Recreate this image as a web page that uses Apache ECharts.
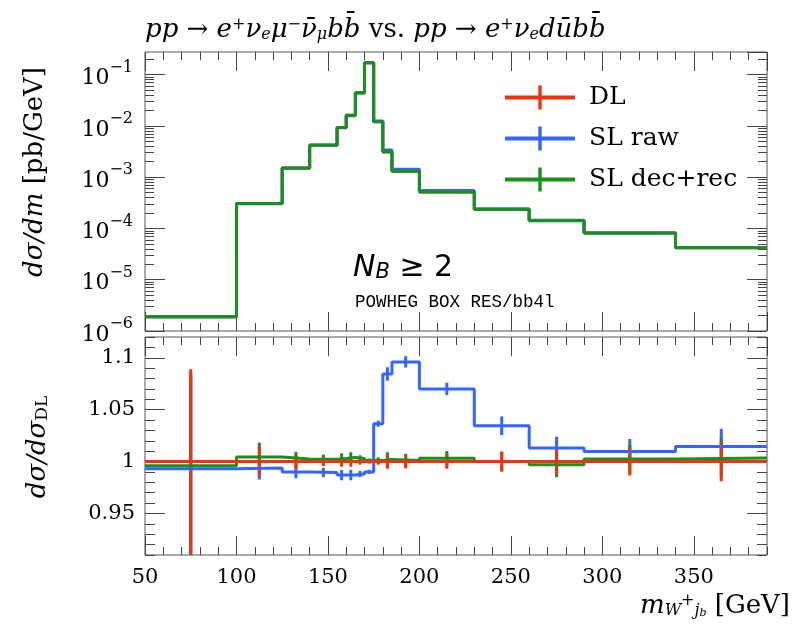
<!DOCTYPE html>
<html>
<head>
<meta charset="utf-8">
<script src="https://cdn.jsdelivr.net/npm/echarts@6/dist/echarts.min.js"></script>
<style>
  html, body { margin: 0; padding: 0; background: #fff; }
  #chart { width: 799px; height: 633px; }
</style>
</head>
<body>
<div id="chart"></div>
<script>
// bin edges of m_{W+ j_b} [GeV]
const edges = [50, 100, 125, 140, 155, 160, 165, 170, 175, 180, 185, 200, 230, 260, 290, 340, 390]

// dsigma/dm [pb/GeV], one value per bin
const xsDL = [1.9e-6, 3.05e-4, 1.5e-3, 4.2e-3, 9.3e-3, 1.6e-2, 4.4e-2, 0.17, 1.2e-2, 3.1e-3, 1.3e-3, 5.1e-4, 2.33e-4, 1.42e-4, 8.1e-5, 4.2e-5]
const xsRaw = [1.89e-6, 3.03e-4, 1.49e-3, 4.16e-3, 9.18e-3, 1.58e-2, 4.35e-2, 0.169, 1.243e-2, 3.36e-3, 1.426e-3, 5.46e-4, 2.41e-4, 1.44e-4, 8.18e-5, 4.26e-5]
const xsDec = [1.89e-6, 3.06e-4, 1.5e-3, 4.21e-3, 9.32e-3, 1.606e-2, 4.41e-2, 0.17, 1.201e-2, 3.106e-3, 1.301e-3, 5.12e-4, 2.33e-4, 1.416e-4, 8.12e-5, 4.21e-5]

// ratio to DL
const ratioDL = [1, 1, 1, 1, 1, 1, 1, 1, 1, 1, 1, 1, 1, 1, 1, 1]
const ratioRaw = [0.993, 0.9937, 0.990, 0.9895, 0.987, 0.987, 0.988, 0.990, 1.0365, 1.0844, 1.096, 1.070, 1.0345, 1.013, 1.0098, 1.0146]
const ratioDec = [0.996, 1.0043, 1.0024, 1.0022, 1.003, 1.004, 1.003, 1.001, 1.001, 1.002, 1.001, 1.0032, 1.000, 0.9969, 1.0024, 1.0034]

// errors on the ratio
const errDL = [0.089, 0.014, 0.007, 0.0045, 0.005, 0.005, 0.003, 0.002, 0.003, 0.007, 0.0065, 0.007, 0.0095, 0.0125, 0.0135, 0.019]
const errRaw = [0.089, 0.011, 0.006, 0.0045, 0.005, 0.005, 0.003, 0.002, 0.003, 0.0065, 0.0055, 0.006, 0.009, 0.011, 0.012, 0.017]
const errDec = [0.089, 0.014, 0.007, 0.0045, 0.005, 0.005, 0.003, 0.002, 0.003, 0.007, 0.0065, 0.007, 0.0095, 0.012, 0.0135, 0.019]

// tick positions
const ratioTicks = [0.95, 1, 1.05, 1.1]
const logMax = 0.275

const RED = '#ee3311'
const BLUE = '#3366ff'
const GREEN = '#18901c'
const TICK = '#444'
const SERIF = 'DejaVu Serif'

const centers = edges.slice(0, -1).map((e, i) => (e + edges[i + 1]) / 2)
const stepData = (vals) => edges.map((e, i) => [e, vals[Math.min(i, vals.length - 1)]])
const errData = (r, e) => centers.map((c, i) => [c, r[i] - e[i], r[i] + e[i]])

// minor log ticks 2..9 x 10^n, in log10 space
const minorLog = []
for (let n = -6; n < 0; n++) {
  for (let k = 2; k <= 9; k++) {
    const v = Math.log10(k * Math.pow(10, n))
    if (v <= Math.log10(logMax)) minorLog.push(v)
  }
}

const chart = echarts.init(document.getElementById('chart'))

const xAx = (grid, pos, interval, len, labels) => ({
  type: 'value',
  gridIndex: grid,
  position: pos,
  min: 50,
  max: 390,
  interval: interval,
  axisLine: { show: false },
  splitLine: { show: false },
  axisTick: { inside: true, length: len, lineStyle: { color: TICK, width: 1 } },
  axisLabel: labels
    ? { show: true, margin: 12, color: '#000', fontFamily: SERIF, fontSize: 21, showMaxLabel: false }
    : { show: false }
})

const logLabel = {
  margin: 12,
  showMaxLabel: false,
  formatter: (v) => '{b|10}{s|−' + Math.round(-Math.log10(v)) + '}',
  rich: {
    b: { fontFamily: SERIF, fontSize: 22, color: '#000', verticalAlign: 'bottom', lineHeight: 30 },
    s: { fontFamily: SERIF, fontSize: 16, color: '#000', verticalAlign: 'top', lineHeight: 16 }
  }
}

const logAx = (pos, labels) => ({
  type: 'log',
  logBase: 10,
  gridIndex: 0,
  position: pos,
  min: 1e-6,
  max: logMax,
  axisLine: { show: false },
  splitLine: { show: false },
  axisTick: { inside: true, length: 20, lineStyle: { color: TICK, width: 1 } },
  axisLabel: labels ? logLabel : { show: false }
})

const logMinorAx = (pos) => ({
  type: 'value',
  gridIndex: 0,
  position: pos,
  min: -6,
  max: Math.log10(logMax),
  axisLine: { show: false },
  splitLine: { show: false },
  axisTick: { inside: true, length: 9, customValues: minorLog, lineStyle: { color: TICK, width: 1 } },
  axisLabel: { show: false }
})

const ratioAx = (pos, labels) => ({
  type: 'value',
  gridIndex: 1,
  position: pos,
  min: 0.91,
  max: 1.12,
  axisLine: { show: false },
  splitLine: { show: false },
  axisTick: { inside: true, length: 20, customValues: ratioTicks, lineStyle: { color: TICK, width: 1 } },
  axisLabel: labels
    ? { customValues: ratioTicks, margin: 10, color: '#000', fontFamily: SERIF, fontSize: 21, formatter: (v) => String(+(+v).toFixed(2)) }
    : { show: false }
})

const ratioMinorAx = (pos) => ({
  type: 'value',
  gridIndex: 1,
  position: pos,
  min: 0.91,
  max: 1.12,
  interval: 0.01,
  axisLine: { show: false },
  splitLine: { show: false },
  axisTick: { inside: true, length: 10, lineStyle: { color: TICK, width: 1 } },
  axisLabel: { show: false }
})

const stepLine = (name, color, x, y, data) => ({
  name: name,
  type: 'line',
  xAxisIndex: x,
  yAxisIndex: y,
  step: 'end',
  symbol: 'none',
  data: data,
  lineStyle: { color: color, width: 3 },
  itemStyle: { color: color }
})

const errBars = (name, color, data) => ({
  name: name,
  type: 'custom',
  xAxisIndex: 4,
  yAxisIndex: 4,
  clip: true,
  itemStyle: { color: color },
  encode: { x: 0, y: [1, 2] },
  data: data,
  renderItem: (params, api) => {
    const a = api.coord([api.value(0), api.value(1)])
    const b = api.coord([api.value(0), api.value(2)])
    return {
      type: 'line',
      shape: { x1: a[0], y1: a[1], x2: b[0], y2: b[1] },
      style: { stroke: color, lineWidth: 3 }
    }
  }
})

const mathRich = {
  i: { fontFamily: SERIF, fontStyle: 'italic', fontSize: 26, color: '#000' },
  r: { fontFamily: SERIF, fontSize: 26, color: '#000' },
  sup: { fontFamily: SERIF, fontSize: 16, color: '#000', verticalAlign: 'top', lineHeight: 16 },
  sub: { fontFamily: SERIF, fontStyle: 'italic', fontSize: 16, color: '#000', verticalAlign: 'bottom', lineHeight: 16 },
  subr: { fontFamily: SERIF, fontSize: 17, color: '#000', verticalAlign: 'bottom', lineHeight: 17 }
}

const option = {
  animation: false,
  backgroundColor: '#fff',
  grid: [
    { left: 145, top: 52, width: 622, height: 279, show: true, borderColor: '#555', borderWidth: 1 },
    { left: 145, top: 337, width: 622, height: 218, show: true, borderColor: '#555', borderWidth: 1 }
  ],
  legend: {
    data: ['DL', 'SL raw', 'SL dec+rec'],
    orient: 'vertical',
    left: 500,
    top: 80,
    itemWidth: 70,
    itemHeight: 24,
    itemGap: 16,
    icon: 'path://M0,10L70,10L70,14L0,14Z M33.3,0L36.7,0L36.7,24L33.3,24Z',
    textStyle: { fontFamily: SERIF, fontSize: 25, color: '#000', lineHeight: 24, padding: [0, 0, 0, 9] }
  },
  xAxis: [
    xAx(0, 'bottom', 50, 19, false),
    xAx(0, 'bottom', 10, 8, false),
    xAx(0, 'top', 50, 19, false),
    xAx(0, 'top', 10, 8, false),
    xAx(1, 'bottom', 50, 19, true),
    xAx(1, 'bottom', 10, 8, false),
    xAx(1, 'top', 50, 19, false),
    xAx(1, 'top', 10, 8, false)
  ],
  yAxis: [
    logAx('left', true),
    logAx('right', false),
    logMinorAx('left'),
    logMinorAx('right'),
    ratioAx('left', true),
    ratioAx('right', false),
    ratioMinorAx('left'),
    ratioMinorAx('right')
  ],
  graphic: [
    {
      type: 'text',
      x: 145,
      y: 30,
      style: {
        text: '{i|pp}{r| → }{i|e}{sup|+}{i|ν}{sub|e}{i|μ}{sup|−}{i|ν̄}{sub|μ}{i|bb̄}{r| vs. }{i|pp}{r| → }{i|e}{sup|+}{i|ν}{sub|e}{i|dūbb̄}',
        fill: '#000',
        verticalAlign: 'middle',
        rich: mathRich
      }
    },
    {
      type: 'text',
      x: 35,
      y: 172,
      rotation: Math.PI / 2,
      style: {
        text: '{i|dσ/dm}{r| [pb/GeV]}',
        align: 'center',
        verticalAlign: 'middle',
        rich: mathRich
      }
    },
    {
      type: 'text',
      x: 38,
      y: 447,
      rotation: Math.PI / 2,
      style: {
        text: '{i|dσ/dσ}{subr|DL}',
        align: 'center',
        verticalAlign: 'middle',
        rich: mathRich
      }
    },
    {
      type: 'text',
      x: 790,
      y: 606,
      style: {
        text: '{i|m}{sub|W}{sup|+}{sub|j}{subb|b}{r| [GeV]}',
        align: 'right',
        verticalAlign: 'middle',
        rich: Object.assign({}, mathRich, {
          subb: { fontFamily: SERIF, fontStyle: 'italic', fontSize: 11, color: '#000', verticalAlign: 'bottom', lineHeight: 11 }
        })
      }
    },
    {
      type: 'text',
      x: 353,
      y: 268,
      style: {
        text: '{n|N}{nb|B}{g| ≥ 2}',
        verticalAlign: 'middle',
        rich: {
          n: { fontFamily: 'DejaVu Sans', fontStyle: 'italic', fontSize: 30, color: '#000' },
          nb: { fontFamily: 'DejaVu Sans', fontStyle: 'italic', fontSize: 21, color: '#000', verticalAlign: 'bottom', lineHeight: 21 },
          g: { fontFamily: 'DejaVu Sans', fontSize: 30, color: '#000' }
        }
      }
    },
    {
      type: 'text',
      x: 355,
      y: 302,
      style: {
        text: 'POWHEG BOX RES/bb4l',
        font: '17.5px "Liberation Mono"',
        fill: '#000',
        verticalAlign: 'middle'
      }
    }
  ],
  series: [
    stepLine('DL', RED, 0, 0, stepData(xsDL)),
    stepLine('SL raw', BLUE, 0, 0, stepData(xsRaw)),
    stepLine('SL dec+rec', GREEN, 0, 0, stepData(xsDec)),

    stepLine('SL raw', BLUE, 4, 4, stepData(ratioRaw)),
    errBars('SL raw', BLUE, errData(ratioRaw, errRaw)),
    stepLine('SL dec+rec', GREEN, 4, 4, stepData(ratioDec)),
    errBars('SL dec+rec', GREEN, errData(ratioDec, errDec)),
    stepLine('DL', RED, 4, 4, stepData(ratioDL)),
    errBars('DL', RED, errData(ratioDL, errDL))
  ]
}

chart.setOption(option)
</script>
</body>
</html>
